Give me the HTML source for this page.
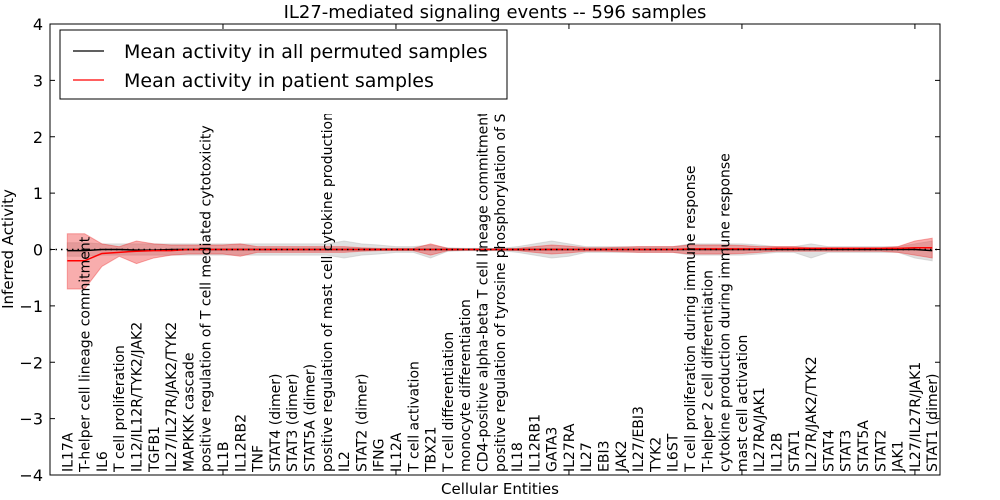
<!DOCTYPE html>
<html><head><meta charset="utf-8"><style>
body{margin:0;background:#fff;}
svg{display:block;font-family:"DejaVu Sans","Liberation Sans",sans-serif;}
</style></head><body>
<svg id="chart" width="1000" height="500">
<defs><clipPath id="topclip" clipPathUnits="userSpaceOnUse"><rect x="0" y="114" width="1000" height="386"/></clipPath></defs>
<text x="495" y="18" text-anchor="middle" font-size="18">IL27-mediated signaling events -- 596 samples</text>
<g id="plot"></g>
<g id="labels" clip-path="url(#topclip)"></g>
<text x="500" y="494" text-anchor="middle" font-size="15">Cellular Entities</text>
<text transform="translate(13,249) rotate(-90)" text-anchor="middle" font-size="15">Inferred Activity</text>
</svg>
<script>
const categories=["IL17A","T-helper cell lineage commitment","IL6","T cell proliferation","IL12/IL12R/TYK2/JAK2","TGFB1","IL27/IL27R/JAK2/TYK2","MAPKKK cascade","positive regulation of T cell mediated cytotoxicity","IL1B","IL12RB2","TNF","STAT4 (dimer)","STAT3 (dimer)","STAT5A (dimer)","positive regulation of mast cell cytokine production","IL2","STAT2 (dimer)","IFNG","IL12A","T cell activation","TBX21","T cell differentiation","monocyte differentiation","CD4-positive alpha-beta T cell lineage commitment","positive regulation of tyrosine phosphorylation of STAT protein","IL18","IL12RB1","GATA3","IL27RA","IL27","EBI3","JAK2","IL27/EBI3","TYK2","IL6ST","T cell proliferation during immune response","T-helper 2 cell differentiation","cytokine production during immune response","mast cell activation","IL27RA/JAK1","IL12B","STAT1","IL27R/JAK2/TYK2","STAT4","STAT3","STAT5A","STAT2","JAK1","IL27/IL27R/JAK1","STAT1 (dimer)"];
const redMean=[-0.2,-0.2,-0.07,-0.05,-0.03,-0.02,-0.02,0,0,0,0,0,0,0,0,0,0,0,0,0,0,0,0,0,0,0,0,0,0,0,0,0,0,0,0,0,0.01,0.01,0.01,0.01,0.01,0.02,0.02,0.02,0.02,0.02,0.02,0.02,0.02,0.03,0.03];
const redHi=[0.28,0.28,0.1,0.05,0.15,0.1,0.08,0.08,0.08,0.08,0.1,0.05,0.05,0.05,0.05,0.05,0.05,0.03,0.02,0.02,0.02,0.1,0.02,0.01,0.01,0.01,0.02,0.05,0.08,0.06,0.03,0.03,0.04,0.05,0.05,0.05,0.08,0.08,0.08,0.07,0.05,0.05,0.05,0.03,0.03,0.03,0.03,0.03,0.05,0.15,0.2];
const redLo=[-0.7,-0.7,-0.3,-0.12,-0.25,-0.15,-0.1,-0.08,-0.08,-0.08,-0.12,-0.05,-0.05,-0.05,-0.05,-0.05,-0.05,-0.03,-0.02,-0.02,-0.02,-0.1,-0.02,-0.01,-0.01,-0.01,-0.02,-0.05,-0.08,-0.06,-0.03,-0.03,-0.04,-0.05,-0.05,-0.05,-0.08,-0.08,-0.08,-0.07,-0.05,-0.03,-0.03,-0.03,-0.03,-0.03,-0.03,-0.03,-0.05,-0.1,-0.15];
const blackMean=[-0.02,-0.02,0,0,-0.01,-0.01,0,0,0,0,0,0,0,0,0,0,0,0,0,0,0,0,0,0,0,0,0,0,0,0,0,0,0,0,0,0,0,0,0,0,0,0,0,0,0,0,0,0,0,0,-0.02];
const grayHi=[0.12,0.12,0.1,0.1,0.1,0.1,0.1,0.1,0.1,0.1,0.1,0.1,0.1,0.1,0.1,0.1,0.15,0.1,0.08,0.05,0.05,0.08,0.03,0.02,0.02,0.02,0.05,0.1,0.15,0.1,0.05,0.05,0.05,0.05,0.05,0.05,0.1,0.1,0.1,0.1,0.08,0.05,0.05,0.1,0.05,0.05,0.05,0.05,0.05,0.1,0.15];
const grayLo=[-0.12,-0.12,-0.1,-0.1,-0.1,-0.1,-0.1,-0.1,-0.1,-0.1,-0.1,-0.1,-0.1,-0.1,-0.1,-0.1,-0.15,-0.1,-0.08,-0.05,-0.05,-0.15,-0.03,-0.02,-0.02,-0.02,-0.05,-0.1,-0.15,-0.12,-0.05,-0.05,-0.05,-0.05,-0.05,-0.05,-0.1,-0.1,-0.1,-0.1,-0.08,-0.05,-0.05,-0.15,-0.05,-0.05,-0.05,-0.05,-0.05,-0.15,-0.2];
const yTicks=[-4,-3,-2,-1,0,1,2,3,4];
const xTicks=[0,10,20,30,40,50];
const NS="http://www.w3.org/2000/svg";
const L=50,R=940,T=24,B=475;
function X(v){return L+v*(R-L)/51.45;}
function Y(v){return B-(v+4)*(B-T)/8;}
const g=document.getElementById('plot');
const lblG=document.getElementById('labels');
function mk(tag,attrs,parent){const e=document.createElementNS(NS,tag);for(const k in attrs)e.setAttribute(k,attrs[k]);(parent||g).appendChild(e);return e;}
function band(lo,hi,fill,op,name){
  let d="";for(let i=0;i<hi.length;i++)d+=(i?"L":"M")+X(i+1)+","+Y(hi[i]);
  for(let i=lo.length-1;i>=0;i--)d+="L"+X(i+1)+","+Y(lo[i]);
  const p=mk('path',{d:d+"Z",fill:fill,'fill-opacity':op,stroke:fill,'stroke-opacity':op,'stroke-width':1});
  
  
}
function line(vals,color,name){
  const pts=vals.map((v,i)=>X(i+1)+","+Y(v)).join(" ");
  const p=mk('polyline',{points:pts,fill:'none',stroke:color,'stroke-width':1.5});
  
  
}
band(grayLo,grayHi,'#bbbbbb',0.45,'permuted-band');
band(redLo,redHi,'#ee3333',0.4,'patient-band');
line(blackMean,'#000','permuted-mean-line');
line(redMean,'#ff0000','patient-mean-line');
const zl=mk('line',{x1:L,x2:R,y1:Y(0),y2:Y(0),stroke:'#000','stroke-dasharray':'1.5,4','stroke-width':1.5});


const fr=mk('rect',{x:L,y:T,width:R-L,height:B-T,fill:'none',stroke:'#000','stroke-width':1});


yTicks.forEach(v=>{
  const y=Y(v);
  const t1=mk('line',{x1:L,x2:L+5,y1:y,y2:y,stroke:'#000'});
  
  
  const t2=mk('line',{x1:R-5,x2:R,y1:y,y2:y,stroke:'#000'});
  
  
  const tx=mk('text',{x:L-7,y:y+6,'text-anchor':'end','font-size':16});
  tx.textContent=(v<0?"\u2212"+(-v):v);
  
  
});
xTicks.forEach(v=>{
  const x=X(v);
  const t1=mk('line',{x1:x,x2:x,y1:T,y2:T+5,stroke:'#000'});
  
  
  const t2=mk('line',{x1:x,x2:x,y1:B-5,y2:B,stroke:'#000'});
  
  
});
categories.forEach((c,i)=>{
  const x=X(i+1)+5;
  const t=mk('text',{transform:`translate(${x},${B-3}) rotate(-90)`,'font-size':14},lblG);
  t.textContent=c;
  
  
});
const lg=mk('rect',{x:60,y:30,width:447,height:69,fill:'#fff',stroke:'#000','stroke-width':1});


[['#000','Mean activity in all permuted samples',51],['#ff0000','Mean activity in patient samples',80]].forEach(([col,txt,y])=>{
  const l=mk('line',{x1:73,x2:104,y1:y,y2:y,stroke:col,'stroke-width':1.3});
  
  
  const t=mk('text',{x:124,y:y+7,'font-size':19});
  t.textContent=txt;
  
  
});
</script>
</body></html>
